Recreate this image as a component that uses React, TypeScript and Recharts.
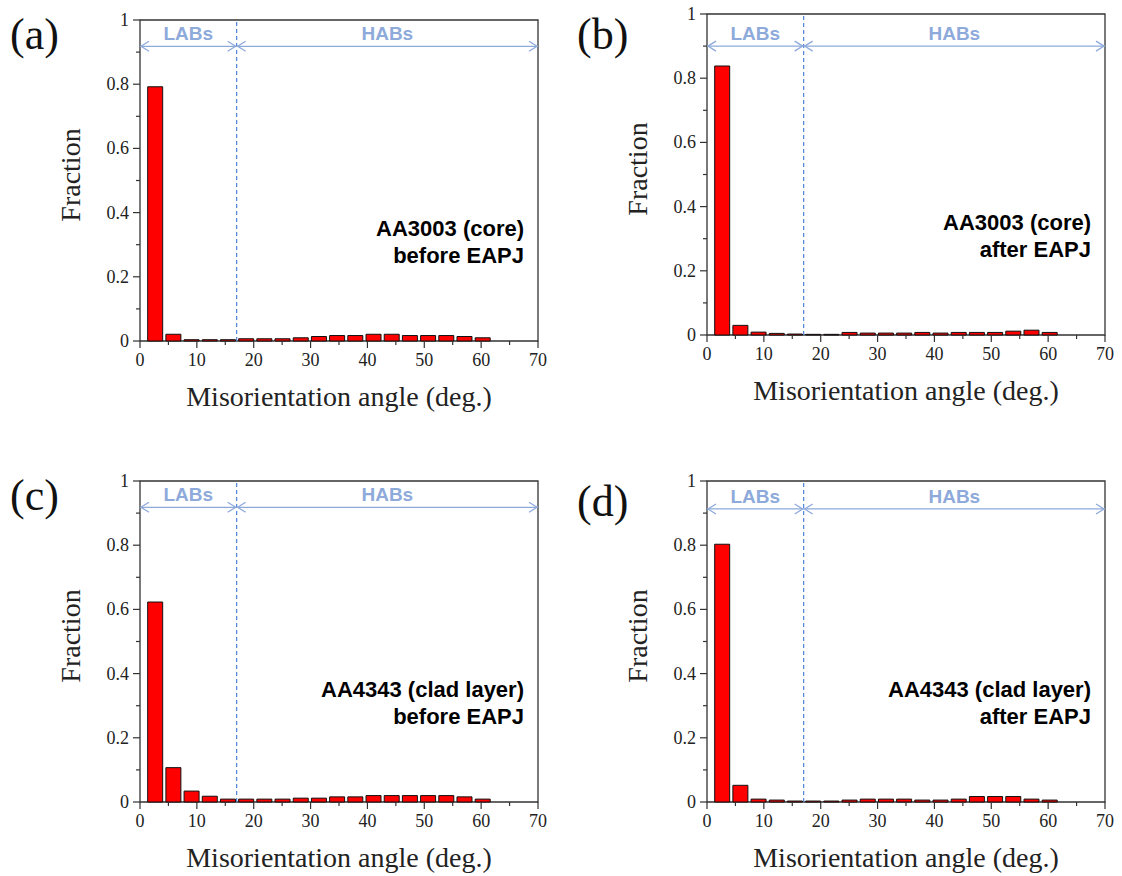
import React from 'react'
import { BarChart, Bar, XAxis, YAxis, ReferenceLine, ReferenceArea } from 'recharts'

// bin centres (deg.) and fraction per bin
const binCenters = [2.6, 5.8, 9.0, 12.2, 15.4, 18.6, 21.8, 25.0, 28.2, 31.4, 34.6, 37.8, 41.0, 44.2, 47.4, 50.6, 53.8, 57.0, 60.2]
const coreBefore = [0.792, 0.021, 0.004, 0.004, 0.004, 0.007, 0.007, 0.007, 0.010, 0.014, 0.017, 0.017, 0.021, 0.021, 0.017, 0.017, 0.017, 0.014, 0.010]
const coreAfter = [0.838, 0.030, 0.009, 0.005, 0.003, 0.002, 0.002, 0.008, 0.006, 0.006, 0.006, 0.008, 0.006, 0.008, 0.008, 0.008, 0.012, 0.015, 0.008]
const cladBefore = [0.623, 0.107, 0.034, 0.018, 0.009, 0.009, 0.009, 0.009, 0.012, 0.012, 0.016, 0.016, 0.020, 0.020, 0.020, 0.020, 0.020, 0.016, 0.009]
const cladAfter = [0.803, 0.052, 0.009, 0.006, 0.003, 0.003, 0.003, 0.006, 0.009, 0.009, 0.009, 0.006, 0.006, 0.009, 0.017, 0.017, 0.017, 0.009, 0.006]

const xTicks = [0, 5, 10, 15, 20, 25, 30, 35, 40, 45, 50, 55, 60, 65, 70]
const yTicks = [0, 0.1, 0.2, 0.3, 0.4, 0.5, 0.6, 0.7, 0.8, 0.9, 1]
const boundaryAngle = 17

const SERIF = "'Times New Roman', 'Liberation Serif', serif"
const SANS = "Arial, 'Liberation Sans', sans-serif"
const AXIS = '#333'
const ARROW = '#8eaadb'
const DASH = '#4f81d6'

const W = 560
const H = 440

const panels = [
  { id: 'a', letter: '(a)', values: coreBefore, sample: 'AA3003 (core)', state: 'before EAPJ', left: 0, top: 0, arrowY: 0.918 },
  { id: 'b', letter: '(b)', values: coreAfter, sample: 'AA3003 (core)', state: 'after EAPJ', left: 567, top: -6, arrowY: 0.9 },
  { id: 'c', letter: '(c)', values: cladBefore, sample: 'AA4343 (clad layer)', state: 'before EAPJ', left: 0, top: 461, arrowY: 0.918 },
  { id: 'd', letter: '(d)', values: cladAfter, sample: 'AA4343 (clad layer)', state: 'after EAPJ', left: 567, top: 461, arrowY: 0.913 },
]

function XTick({ x, y, payload }: any) {
  const v = payload.value
  const major = v % 10 === 0
  return (
    <g>
      <line x1={x} x2={x} y1={y} y2={y + (major ? 7 : 4)} stroke={AXIS} strokeWidth={1.2} />
      {major && (
        <text x={x} y={y + 25} textAnchor="middle" fontSize={18} fontFamily={SERIF} fill="#222">
          {v}
        </text>
      )}
    </g>
  )
}

function YTick({ x, y, payload }: any) {
  const v = payload.value
  const major = Math.round(v * 10) % 2 === 0
  return (
    <g>
      <line x1={x - (major ? 7 : 4)} x2={x} y1={y} y2={y} stroke={AXIS} strokeWidth={1.2} />
      {major && (
        <text x={x - 11} y={y + 6} textAnchor="end" fontSize={18} fontFamily={SERIF} fill="#222">
          {String(v)}
        </text>
      )}
    </g>
  )
}

const arrowShape = (label: string) => (props: any) => {
  const { x1, y1, x2 } = props
  const y = y1
  return (
    <g>
      <line x1={x1} y1={y} x2={x2} y2={y} stroke={ARROW} strokeWidth={1.3} />
      <polyline points={`${x1 + 9},${y - 5} ${x1 + 1},${y} ${x1 + 9},${y + 5}`} fill="none" stroke={ARROW} strokeWidth={1.3} />
      <polyline points={`${x2 - 9},${y - 5} ${x2 - 1},${y} ${x2 - 9},${y + 5}`} fill="none" stroke={ARROW} strokeWidth={1.3} />
      <text x={(x1 + x2) / 2} y={y - 6} textAnchor="middle" fontSize={19} fontWeight="bold" fontFamily={SANS} fill={ARROW}>
        {label}
      </text>
    </g>
  )
}

function Panel({ p }: any) {
  const data = binCenters.map((angle, i) => ({ angle, fraction: p.values[i] }))
  return (
    <div style={{ position: 'absolute', left: p.left, top: p.top, width: W, height: H }}>
      <BarChart width={W} height={H} data={data} margin={{ top: 20, right: 22, bottom: 69, left: 90 }}>
        <XAxis
          type="number"
          dataKey="angle"
          domain={[0, 70]}
          ticks={xTicks}
          interval={0}
          tick={<XTick />}
          tickSize={0}
          tickMargin={0}
          tickLine={false}
          axisLine={false}
          height={30}
          allowDataOverflow
        />
        <YAxis
          type="number"
          domain={[0, 1]}
          ticks={yTicks}
          interval={0}
          tick={<YTick />}
          tickSize={0}
          tickMargin={0}
          tickLine={false}
          axisLine={false}
          width={50}
        />
        <ReferenceLine x={boundaryAngle} stroke={DASH} strokeWidth={1.2} strokeDasharray="4 3" />
        <ReferenceLine
          segment={[{ x: 0, y: p.arrowY }, { x: boundaryAngle, y: p.arrowY }]}
          shape={arrowShape('LABs')}
        />
        <ReferenceLine
          segment={[{ x: boundaryAngle, y: p.arrowY }, { x: 70, y: p.arrowY }]}
          shape={arrowShape('HABs')}
        />
        <Bar dataKey="fraction" fill="#ff0000" stroke="#111" strokeWidth={1} barSize={15} isAnimationActive={false} />
        <ReferenceArea x1={0} x2={70} y1={0} y2={1} fill="none" stroke={AXIS} strokeWidth={1.3} />
      </BarChart>
      <svg width={W} height={H} style={{ position: 'absolute', left: 0, top: 0, pointerEvents: 'none' }}>
        <text x={10} y={p.id === 'b' || p.id === 'd' ? 55 : 49} fontSize={44} fontFamily={SERIF} fill="#111">
          {p.letter}
        </text>
        <text transform="translate(80,175) rotate(-90)" textAnchor="middle" fontSize={28} fontFamily={SERIF} fill="#222">
          Fraction
        </text>
        <text x={339} y={406} textAnchor="middle" fontSize={28} fontFamily={SERIF} fill="#222">
          Misorientation angle (deg.)
        </text>
        <text x={524} y={236} textAnchor="end" fontSize={22} fontWeight="bold" fontFamily={SANS} fill="#000">
          {p.sample}
        </text>
        <text x={524} y={263} textAnchor="end" fontSize={22} fontWeight="bold" fontFamily={SANS} fill="#000">
          {p.state}
        </text>
      </svg>
    </div>
  )
}

export default function App() {
  return (
    <div style={{ position: 'absolute', left: 0, top: 0, width: 1122, height: 876, background: '#fff', overflow: 'hidden' }}>
      {panels.map((p) => (
        <Panel key={p.id} p={p} />
      ))}
    </div>
  )
}
